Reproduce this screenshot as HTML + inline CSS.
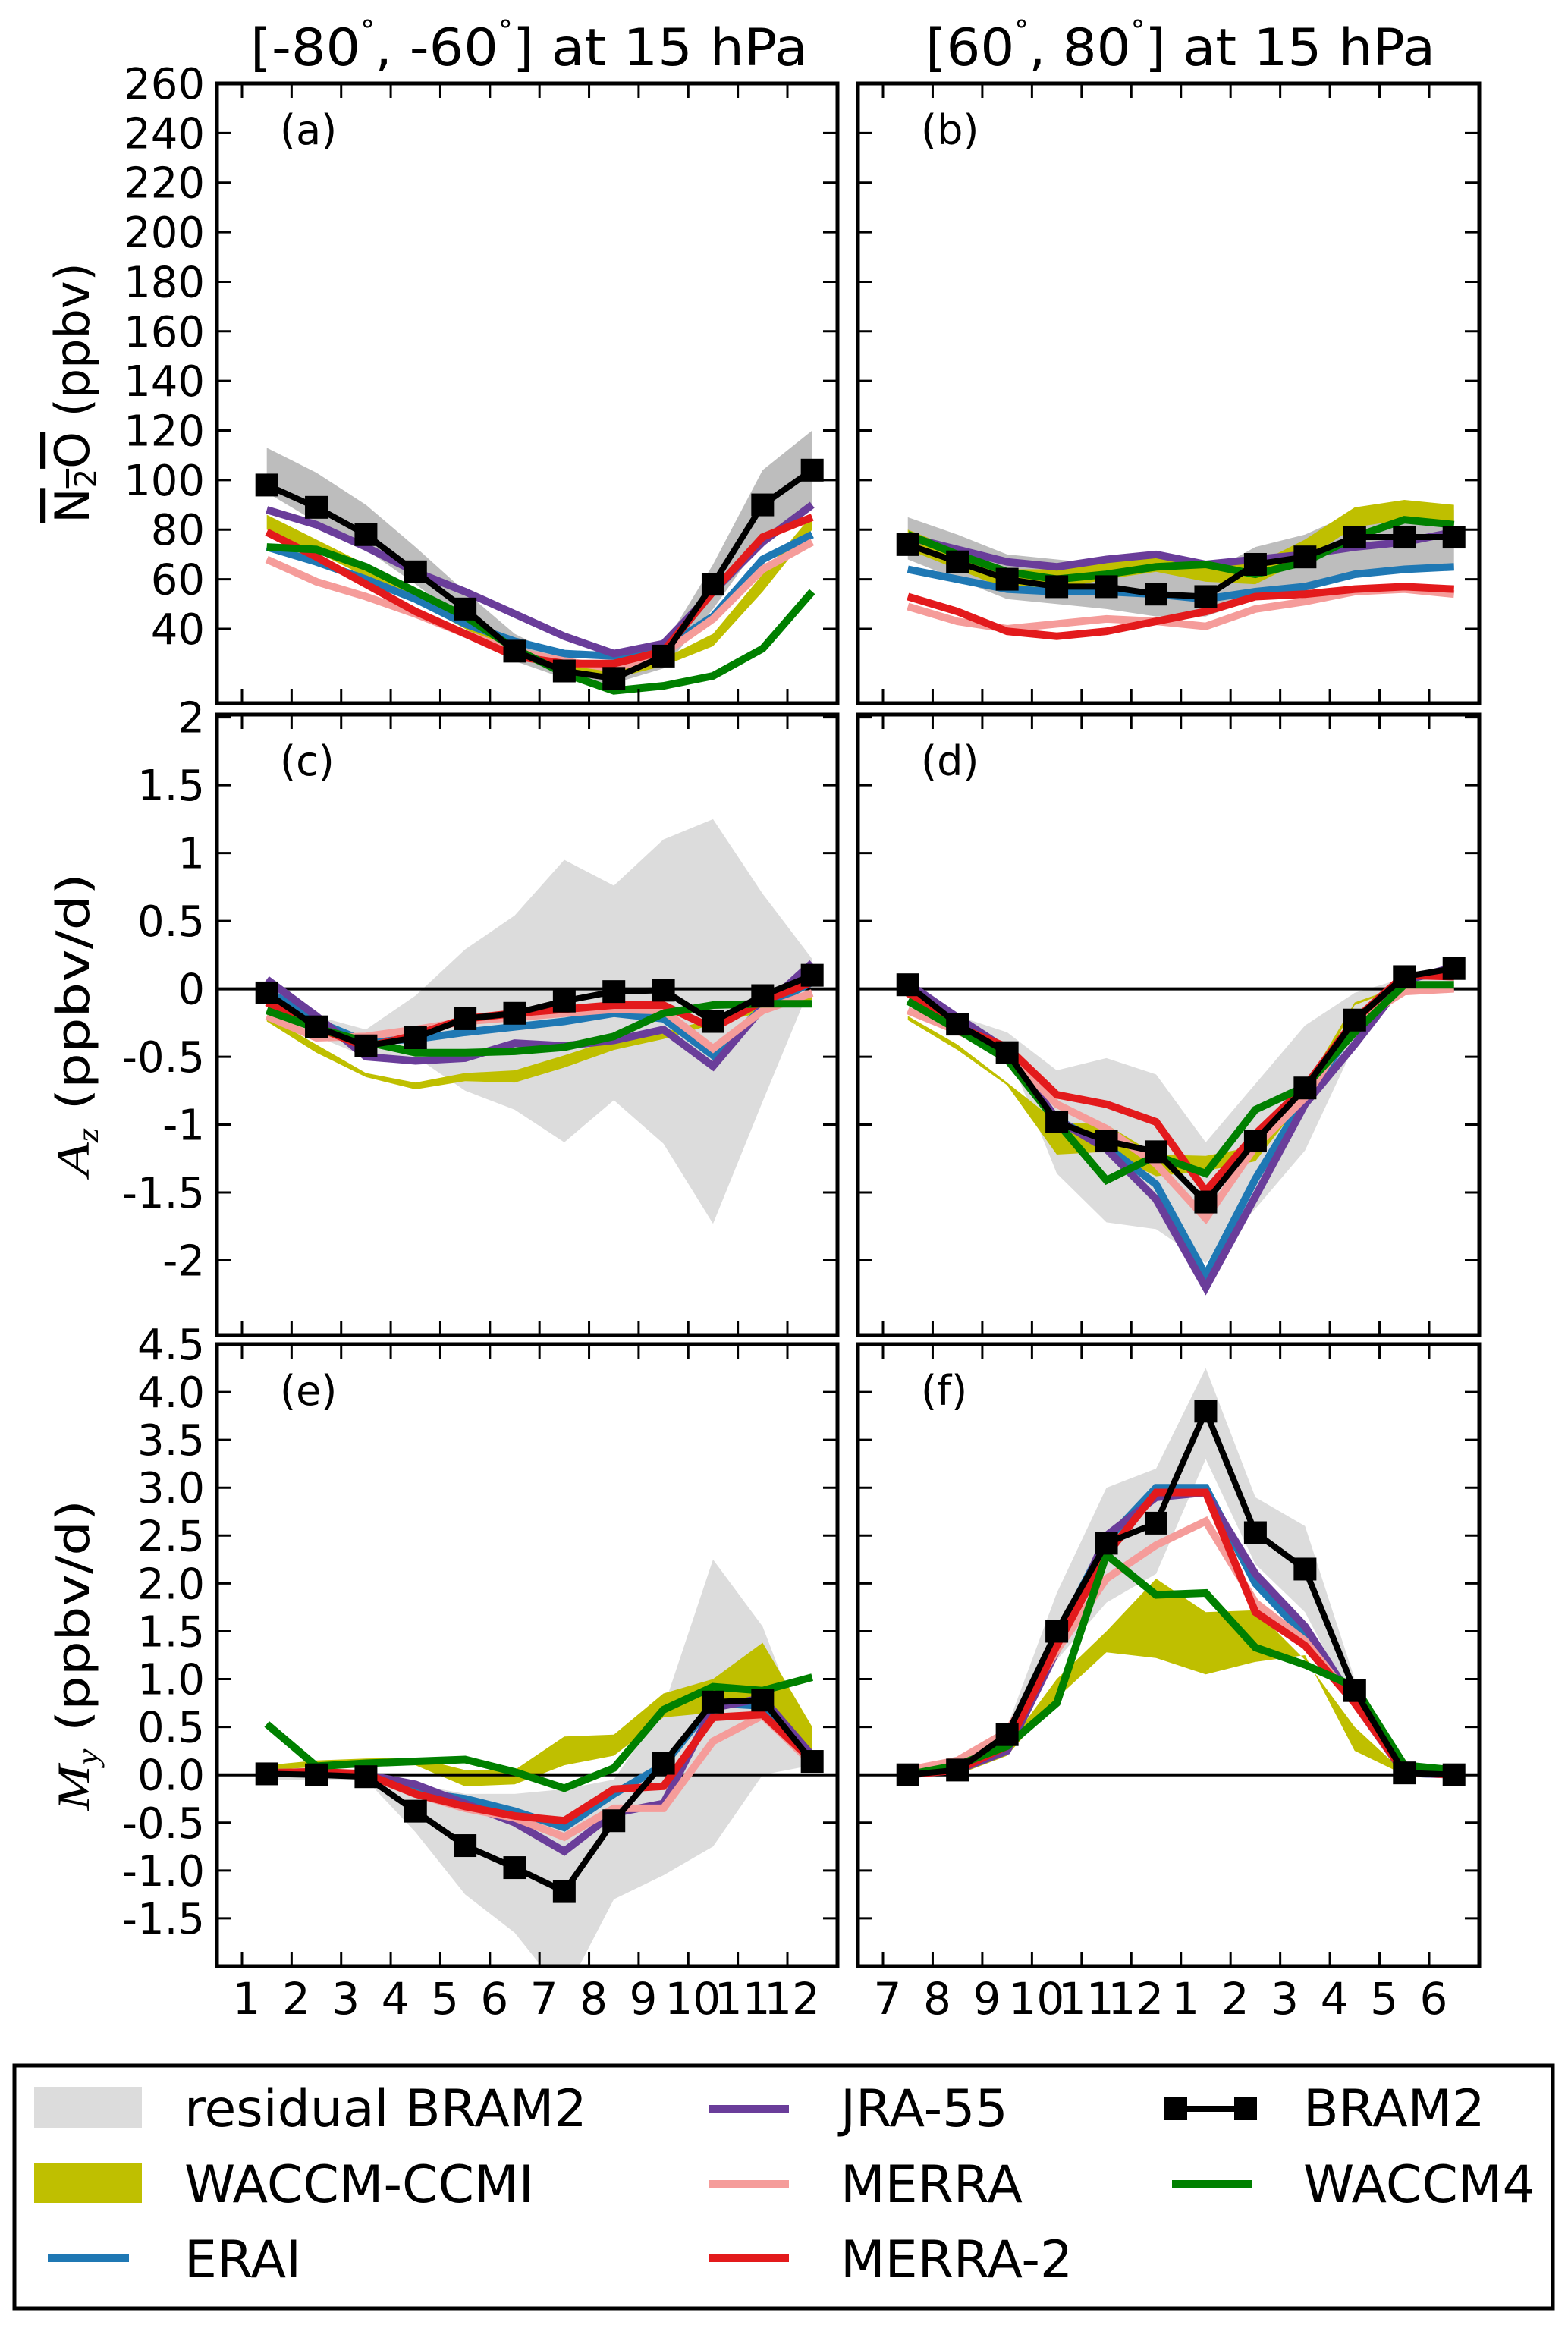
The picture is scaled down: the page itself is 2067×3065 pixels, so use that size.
<!DOCTYPE html>
<html><head><meta charset="utf-8"><style>
html,body{margin:0;padding:0;background:#fff;}
svg{display:block;font-family:"DejaVu Sans","Liberation Sans",sans-serif;}
</style></head><body>
<svg id="fig" width="2067" height="3065" viewBox="0 0 2067 3065" xmlns="http://www.w3.org/2000/svg"></svg>
<script>
// ---- Data (x positions are month index 0..11, plotted at mid-month) ----
const monthsSH = ["1","2","3","4","5","6","7","8","9","10","11","12"];
const monthsNH = ["7","8","9","10","11","12","1","2","3","4","5","6"];
const ticksA = [40,60,80,100,120,140,160,180,200,220,240,260];
const ticksC = [-2,-1.5,-1,-0.5,0,0.5,1,1.5,2];
const ticksE = [-1.5,-1.0,-0.5,0.0,0.5,1.0,1.5,2.0,2.5,3.0,3.5,4.0,4.5];

// Panel (a)
const aGreyHi = [113,103,90,73,55,38,28,25,33,66,104,120];
const aGreyLo = [95,83,72,58,43,27,20,18,24,48,76,88];
const aYelHi = [86,76,66,56,45,33,26,23,28,38,62,86];
const aYelLo = [80,71,61,51,40,29,22,20,25,33,55,80];
const aERAI = [73,67,60,52,42,35,30,29,32,45,68,78];
const aJRA = [88,82,73,63,55,46,37,30,34,55,75,90];
const aMERRA = [68,59,53,46,38,31,27,24,30,44,64,75];
const aMERRA2 = [79,69,58,47,38,29,26,26,31,55,77,85];
const aWACCM4 = [73,72,65,55,45,32,22,15,17,21,32,55];
const aBRAM2 = [98,89,78,63,48,31,23,20,29,58,90,104];
// Panel (b)
const bGreyHi = [85,78,70,68,66,65,62,73,78,87,88,88];
const bGreyLo = [68,60,52,50,48,45,45,52,55,62,64,65];
const bYelHi = [80,72,64,64,68,71,67,66,76,89,92,90];
const bYelLo = [72,64,56,56,60,63,59,58,68,81,84,82];
const bERAI = [64,60,56,55,55,54,52,55,57,62,64,65];
const bJRA = [77,72,67,65,68,70,66,68,70,73,75,79];
const bMERRA = [49,43,40,42,44,43,41,48,51,55,56,54];
const bMERRA2 = [53,47,39,37,39,43,47,53,54,56,57,56];
const bWACCM4 = [78,70,63,60,62,65,66,62,67,77,84,82];
const bBRAM2 = [74,67,60,57,57,54,53,66,69,77,77,77];
// Panel (c)
const cGreyHi = [0.05,-0.2,-0.3,-0.05,0.29,0.54,0.95,0.76,1.1,1.25,0.7,0.22];
const cGreyLo = [-0.1,-0.35,-0.5,-0.5,-0.75,-0.89,-1.13,-0.82,-1.14,-1.73,-0.83,0.05];
const cYelHi = [-0.2,-0.41,-0.62,-0.69,-0.62,-0.6,-0.49,-0.37,-0.32,-0.22,-0.14,-0.05];
const cYelLo = [-0.24,-0.47,-0.65,-0.74,-0.68,-0.69,-0.58,-0.45,-0.37,-0.26,-0.17,-0.08];
const cERAI = [-0.01,-0.24,-0.39,-0.37,-0.32,-0.28,-0.24,-0.18,-0.22,-0.49,-0.14,0.05];
const cJRA = [0.07,-0.2,-0.5,-0.53,-0.51,-0.4,-0.42,-0.38,-0.3,-0.57,-0.14,0.19];
const cMERRA = [-0.2,-0.36,-0.35,-0.3,-0.24,-0.21,-0.18,-0.15,-0.16,-0.44,-0.16,-0.03];
const cMERRA2 = [-0.1,-0.28,-0.43,-0.34,-0.22,-0.18,-0.15,-0.12,-0.12,-0.29,-0.09,0.05];
const cWACCM4 = [-0.16,-0.29,-0.39,-0.47,-0.47,-0.46,-0.43,-0.35,-0.18,-0.12,-0.11,-0.11];
const cBRAM2 = [-0.03,-0.28,-0.42,-0.36,-0.22,-0.18,-0.09,-0.02,-0.01,-0.24,-0.05,0.1];
// Panel (d)
const dGreyHi = [0.03,-0.2,-0.32,-0.6,-0.51,-0.63,-1.13,-0.7,-0.27,-0.03,0.08,0.1];
const dGreyLo = [0,-0.3,-0.45,-1.36,-1.72,-1.77,-2.02,-1.62,-1.19,-0.41,0.02,0.05];
const dYelHi = [-0.2,-0.41,-0.69,-0.98,-1.0,-1.22,-1.23,-1.16,-0.72,-0.1,0.03,0.03];
const dYelLo = [-0.23,-0.45,-0.71,-1.22,-1.2,-1.38,-1.34,-1.27,-0.8,-0.12,0.02,0.02];
const dERAI = [0.04,-0.25,-0.47,-0.96,-1.16,-1.44,-2.11,-1.4,-0.8,-0.29,0.08,0.12];
const dJRA = [0.04,-0.21,-0.45,-0.96,-1.18,-1.55,-2.2,-1.53,-0.85,-0.41,0.06,0.16];
const dMERRA = [-0.16,-0.31,-0.47,-0.85,-1.03,-1.29,-1.69,-1.16,-0.8,-0.25,-0.02,0];
const dMERRA2 = [-0.03,-0.28,-0.43,-0.78,-0.85,-0.98,-1.49,-1.07,-0.72,-0.23,0.1,0.09];
const dWACCM4 = [-0.09,-0.3,-0.52,-0.98,-1.41,-1.23,-1.36,-0.89,-0.72,-0.32,0.03,0.03];
const dBRAM2 = [0.03,-0.26,-0.47,-0.98,-1.12,-1.2,-1.57,-1.12,-0.73,-0.23,0.09,0.15];
// Panel (e)
const eGreyHi = [0.05,0.05,0.05,-0.1,-0.2,-0.2,-0.15,-0.05,0.7,2.25,1.55,0.2];
const eGreyLo = [-0.05,-0.05,-0.05,-0.6,-1.25,-1.65,-2.3,-1.3,-1.05,-0.75,0,0.1];
const eYelHi = [0.1,0.15,0.17,0.18,0.05,0.05,0.4,0.42,0.85,1.0,1.38,0.5];
const eYelLo = [0.05,0.08,0.1,0.1,-0.12,-0.1,0.1,0.2,0.6,0.65,0.8,0.2];
const eERAI = [0.02,0.03,0.0,-0.18,-0.25,-0.38,-0.55,-0.2,0.1,0.75,0.72,0.15];
const eJRA = [0.02,0.03,0.0,-0.1,-0.3,-0.5,-0.8,-0.4,-0.3,0.7,0.8,0.2];
const eMERRA = [0.02,0.03,0.0,-0.2,-0.35,-0.45,-0.65,-0.35,-0.35,0.35,0.62,0.12];
const eMERRA2 = [0.02,0.03,0.01,-0.2,-0.33,-0.43,-0.48,-0.15,-0.12,0.6,0.63,0.15];
const eWACCM4 = [0.53,0.09,0.12,0.14,0.16,0.03,-0.14,0.07,0.68,0.92,0.88,1.02];
const eBRAM2 = [0.01,0.0,-0.02,-0.38,-0.74,-0.97,-1.22,-0.48,0.12,0.76,0.78,0.14];
// Panel (f)
const fGreyHi = [0.05,0.1,0.5,1.9,3.0,3.2,4.25,2.9,2.6,1.0,0.1,0.05];
const fGreyLo = [0,0,0.3,1.2,1.8,2.1,3.3,2.2,1.7,0.7,0,0];
const fYelHi = [0,0.05,0.3,1.0,1.5,2.05,1.7,1.72,1.2,0.5,0.02,0.02];
const fYelLo = [0,0,0.2,0.8,1.28,1.22,1.05,1.18,1.25,0.25,0,0];
const fERAI = [0,0.08,0.35,1.45,2.45,3.0,3.0,2.0,1.45,0.8,0.02,0];
const fJRA = [0,0.05,0.25,1.3,2.5,2.9,2.95,2.1,1.55,0.75,0.02,0];
const fMERRA = [0.05,0.15,0.45,1.3,2.05,2.4,2.65,1.8,1.4,0.75,0.03,0];
const fMERRA2 = [0,0.05,0.3,1.35,2.3,2.95,2.95,1.7,1.35,0.75,0.03,0];
const fWACCM4 = [0,0.1,0.3,0.75,2.3,1.88,1.9,1.33,1.15,0.92,0.1,0.05];
const fBRAM2 = [0,0.05,0.42,1.5,2.42,2.63,3.8,2.53,2.15,0.88,0.02,0];

const NS = "http://www.w3.org/2000/svg";
const svg = document.getElementById("fig");
function mk(tag, attrs, parent){
  const e = document.createElementNS(NS, tag);
  for (const k in attrs) e.setAttribute(k, attrs[k]);
  (parent||svg).appendChild(e);
  return e;
}
const COL = {grey:"#dcdcdc", greyDark:"#bdbdbd", yel:"#bfbf00", erai:"#1f78b4", jra:"#6a3d9a", merra:"#f59c9a", merra2:"#e31a1c", w4:"#008000"};

const panels = [
  {id:"a", x:286, y:110, w:818, h:817, ymin:10, ymax:260, ticks:ticksA, fmt:v=>String(v), left:true, months:null, zero:false, grey:COL.greyDark,
   d:[aGreyHi,aGreyLo,aYelHi,aYelLo,aERAI,aJRA,aMERRA,aMERRA2,aWACCM4,aBRAM2]},
  {id:"b", x:1131, y:110, w:819, h:817, ymin:10, ymax:260, ticks:ticksA, left:false, months:null, zero:false, grey:COL.greyDark,
   d:[bGreyHi,bGreyLo,bYelHi,bYelLo,bERAI,bJRA,bMERRA,bMERRA2,bWACCM4,bBRAM2]},
  {id:"c", x:286, y:942, w:818, h:818, ymin:-2.55, ymax:2.02, ticks:ticksC, fmt:v=>String(v), left:true, months:null, zero:true, grey:COL.grey,
   d:[cGreyHi,cGreyLo,cYelHi,cYelLo,cERAI,cJRA,cMERRA,cMERRA2,cWACCM4,cBRAM2]},
  {id:"d", x:1131, y:942, w:819, h:818, ymin:-2.55, ymax:2.02, ticks:ticksC, left:false, months:null, zero:true, grey:COL.grey,
   d:[dGreyHi,dGreyLo,dYelHi,dYelLo,dERAI,dJRA,dMERRA,dMERRA2,dWACCM4,dBRAM2]},
  {id:"e", x:286, y:1772, w:818, h:820, ymin:-2.0, ymax:4.5, ticks:ticksE, fmt:v=>v.toFixed(1), left:true, months:monthsSH, zero:true, grey:COL.grey,
   d:[eGreyHi,eGreyLo,eYelHi,eYelLo,eERAI,eJRA,eMERRA,eMERRA2,eWACCM4,eBRAM2]},
  {id:"f", x:1131, y:1772, w:819, h:820, ymin:-2.0, ymax:4.5, ticks:ticksE, left:false, months:monthsNH, zero:true, grey:COL.grey,
   d:[fGreyHi,fGreyLo,fYelHi,fYelLo,fERAI,fJRA,fMERRA,fMERRA2,fWACCM4,fBRAM2]},
];

panels.forEach(p=>{
  const g = mk("g", {});
  
  
  const step = (p.w-33-66)/11;
  const xTick = k => p.x+33+k*step;
  const xs = i => xTick(i+0.5);
  const ys = v => p.y + (p.ymax - v)/(p.ymax - p.ymin)*p.h;
  const cp = mk("clipPath", {id:"clip-"+p.id}, g);
  mk("rect", {x:p.x, y:p.y, width:p.w, height:p.h}, cp);
  const plot = mk("g", {"clip-path":"url(#clip-"+p.id+")"}, g);
  function band(hi, lo, color, name){
    let pts = hi.map((v,i)=>xs(i)+","+ys(v));
    for (let i=lo.length-1;i>=0;i--) pts.push(xs(i)+","+ys(lo[i]));
    const e = mk("polygon", {points:pts.join(" "), fill:color, stroke:"none"}, plot);
    
    
  }
  function line(vals, color, w, name){
    const e = mk("polyline", {points:vals.map((v,i)=>xs(i)+","+ys(v)).join(" "), fill:"none", stroke:color, "stroke-width":w, "stroke-linejoin":"miter"}, plot);
    
    
  }
  band(p.d[0], p.d[1], p.grey, "residual-bram2-band");
  band(p.d[2], p.d[3], COL.yel, "waccm-ccmi-band");
  if (p.zero){
    const z = mk("line", {x1:p.x, x2:p.x+p.w, y1:ys(0), y2:ys(0), stroke:"#000", "stroke-width":4}, plot);
    
    
  }
  line(p.d[4], COL.erai, 10, "erai-line");
  line(p.d[5], COL.jra, 10, "jra55-line");
  line(p.d[6], COL.merra, 10, "merra-line");
  line(p.d[7], COL.merra2, 10, "merra2-line");
  line(p.d[8], COL.w4, 10, "waccm4-line");
  line(p.d[9], "#000", 8, "bram2-line");
  p.d[9].forEach((v,i)=>{
    const s = mk("rect", {x:xs(i)-15, y:ys(v)-15, width:30, height:30, fill:"#000"}, plot);
    
    
  });
  for (let k=0;k<12;k++){
    const x = xTick(k);
    mk("line", {x1:x, x2:x, y1:p.y, y2:p.y+19, stroke:"#000", "stroke-width":3}, g);
    mk("line", {x1:x, x2:x, y1:p.y+p.h, y2:p.y+p.h-19, stroke:"#000", "stroke-width":3}, g);
  }
  p.ticks.forEach(v=>{
    const y = ys(v);
    if (y < p.y-1 || y > p.y+p.h+1) return;
    mk("line", {x1:p.x, x2:p.x+19, y1:y, y2:y, stroke:"#000", "stroke-width":3}, g);
    mk("line", {x1:p.x+p.w, x2:p.x+p.w-19, y1:y, y2:y, stroke:"#000", "stroke-width":3}, g);
    if (p.left){
      const t = mk("text", {x:270, y:y+20, "text-anchor":"end", "font-size":56}, g);
      t.textContent = p.fmt(v);
      
      
    }
  });
  if (p.months){
    p.months.forEach((m,k)=>{
      const t = mk("text", {x:xTick(k)+6, y:2655, "text-anchor":"middle", "font-size":58}, g);
      t.textContent = m;
      
      
    });
  }
  const fr = mk("rect", {x:p.x, y:p.y, width:p.w, height:p.h, fill:"none", stroke:"#000", "stroke-width":5}, g);
  
  
  const lb = mk("text", {x:p.x+83, y:p.y+80, "font-size":54}, g);
  lb.textContent = "("+p.id+")";
  
  
});
</script>
<script>
(function(){
  const NS="http://www.w3.org/2000/svg", svg=document.getElementById("fig");
  function add(html){ const g=document.createElementNS(NS,"g"); g.innerHTML=html; svg.appendChild(g); return g; }
  add(`
  <text x="330" y="86" font-size="68" textLength="735" lengthAdjust="spacingAndGlyphs">[-80<tspan font-size="36" dy="-34">°</tspan><tspan dy="34">, -60</tspan><tspan font-size="36" dy="-34">°</tspan><tspan dy="34">] at 15 hPa</tspan></text>
  <text x="1220" y="86" font-size="68" textLength="672" lengthAdjust="spacingAndGlyphs">[60<tspan font-size="36" dy="-34">°</tspan><tspan dy="34">, 80</tspan><tspan font-size="36" dy="-34">°</tspan><tspan dy="34">] at 15 hPa</tspan></text>
  <text transform="translate(117,518) rotate(-90)" text-anchor="middle" font-size="62"><tspan text-decoration="overline">N<tspan font-size="40" dy="10">2</tspan><tspan dy="-10">O</tspan></tspan> (ppbv)</text>
  <text transform="translate(117,1351) rotate(-90)" text-anchor="middle" font-size="60" textLength="400" lengthAdjust="spacingAndGlyphs"><tspan font-family="Liberation Serif, serif" font-style="italic">A</tspan><tspan font-family="Liberation Serif, serif" font-style="italic" font-size="40" dy="12">z</tspan><tspan dy="-12">  (ppbv/d)</tspan></text>
  <text transform="translate(117,2182) rotate(-90)" text-anchor="middle" font-size="60" textLength="410" lengthAdjust="spacingAndGlyphs"><tspan font-family="Liberation Serif, serif" font-style="italic">M</tspan><tspan font-family="Liberation Serif, serif" font-style="italic" font-size="40" dy="12">y</tspan><tspan dy="-12">  (ppbv/d)</tspan></text>
  <g>
    <rect x="19" y="2723" width="2028" height="320" fill="#fff" stroke="#000" stroke-width="5"/>
    <rect x="45" y="2751" width="142" height="54" fill="#dcdcdc"/>
    <text x="243" y="2803" font-size="68">residual BRAM2</text>
    <rect x="45" y="2851" width="142" height="53" fill="#bfbf00"/>
    <text x="243" y="2903" font-size="68">WACCM-CCMI</text>
    <line x1="63" x2="170" y1="2977" y2="2977" stroke="#1f78b4" stroke-width="10"/>
    <text x="243" y="3002" font-size="68">ERAI</text>
    <line x1="934" x2="1040" y1="2780" y2="2780" stroke="#6a3d9a" stroke-width="10"/>
    <text x="1108" y="2803" font-size="68">JRA-55</text>
    <line x1="934" x2="1040" y1="2879" y2="2879" stroke="#f59c9a" stroke-width="10"/>
    <text x="1108" y="2903" font-size="68">MERRA</text>
    <line x1="934" x2="1040" y1="2977" y2="2977" stroke="#e31a1c" stroke-width="10"/>
    <text x="1108" y="3002" font-size="68">MERRA-2</text>
    <line x1="1550" x2="1642" y1="2780" y2="2780" stroke="#000" stroke-width="8"/>
    <rect x="1535" y="2765" width="30" height="30" fill="#000"/>
    <rect x="1627" y="2765" width="30" height="30" fill="#000"/>
    <text x="1718" y="2803" font-size="68">BRAM2</text>
    <line x1="1545" x2="1650" y1="2879" y2="2879" stroke="#008000" stroke-width="10"/>
    <text x="1718" y="2903" font-size="68">WACCM4</text>
  </g>`);
})();
</script>
</body></html>
